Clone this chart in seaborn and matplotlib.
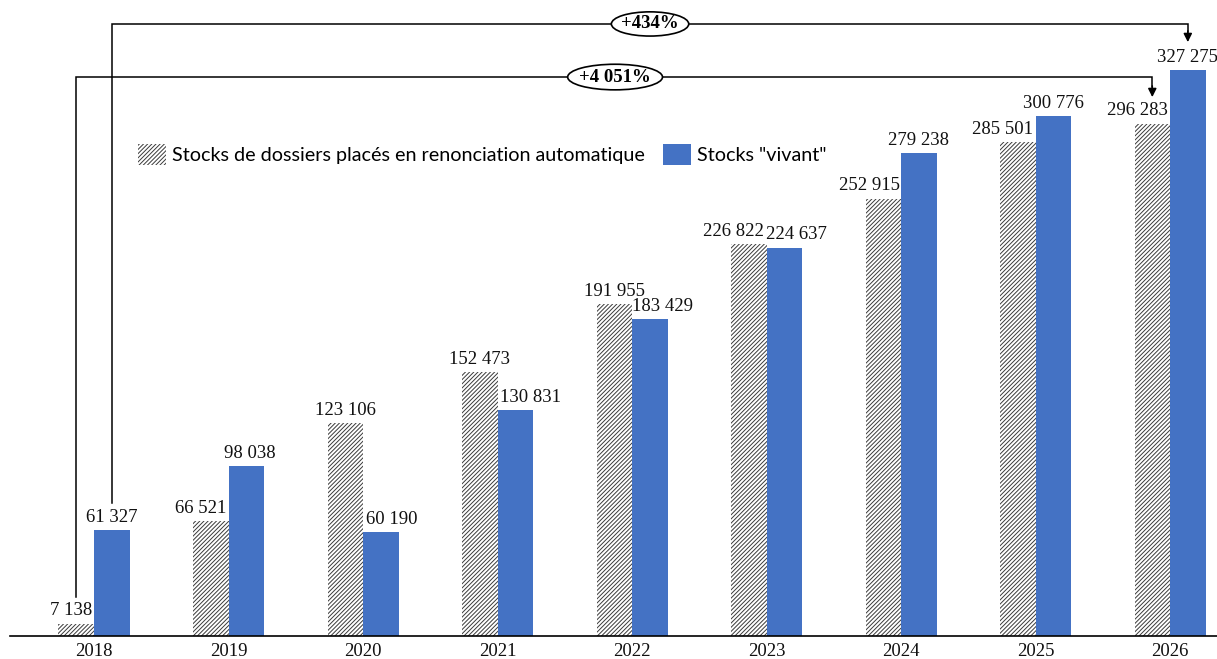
import matplotlib
matplotlib.use("Agg")
import matplotlib.pyplot as plt
import seaborn as sns
import pandas as pd
from matplotlib.patches import Patch, Ellipse

# ---- data ----
years = ["2018", "2019", "2020", "2021", "2022", "2023", "2024", "2025", "2026"]
stock_renonciation = [7138, 66521, 123106, 152473, 191955, 226822, 252915, 285501, 296283]
stock_vivant = [61327, 98038, 60190, 130831, 183429, 224637, 279238, 300776, 327275]
series_names = ["Stocks de dossiers placés en renonciation automatique", 'Stocks "vivant"']
growth_labels = ["+434%", "+4 051%"]

# label nudges (px) to avoid overlapping labels, like the original
off_renon = [-5, -10, 0, 0, 0, -15, -14, -15, -15]
off_vivant = [0, 4, 11, 15, 13, 12, 0, 0, 0]

df = pd.DataFrame({
    "annee": years * 2,
    "valeur": stock_renonciation + stock_vivant,
    "serie": [series_names[0]] * len(years) + [series_names[1]] * len(years),
})

BLUE = "#4472C4"
HATCH = "////////"
plt.rcParams["hatch.linewidth"] = 0.7

fig = plt.figure(figsize=(12.17, 6.59), dpi=100)
ax = fig.add_axes([10 / 1217, 23 / 659, 1207 / 1217, 636 / 659])

sns.barplot(data=df, x="annee", y="valeur", hue="serie", hue_order=series_names,
            palette={series_names[0]: "white", series_names[1]: BLUE},
            width=0.528, gap=0, saturation=1, legend=False, ax=ax)

for bar in ax.containers[0]:
    bar.set_hatch(HATCH)
    bar.set_edgecolor("#3a3a3a")
    bar.set_linewidth(0)
for bar in ax.containers[1]:
    bar.set_edgecolor(BLUE)
    bar.set_linewidth(0)

ax.set_xlim(-0.6245, 8.349)
ax.set_ylim(0, 367750)

fmt = lambda v: f"{v:,}".replace(",", " ")
for cont, offs in zip(ax.containers, [off_renon, off_vivant]):
    for bar, dx in zip(cont, offs):
        ax.annotate(fmt(int(bar.get_height())),
                    (bar.get_x() + bar.get_width() / 2, bar.get_height()),
                    xytext=(dx * 0.72, 3), textcoords="offset points",
                    ha="center", va="bottom", fontsize=13.5,
                    family="Liberation Serif", color="#111111")

# growth brackets
hb = ax.containers[0]
bb = ax.containers[1]
x_h0 = hb[0].get_x() + hb[0].get_width() / 2
x_h8 = hb[-1].get_x() + hb[-1].get_width() / 2
x_b0 = bb[0].get_x() + bb[0].get_width() / 2
x_b8 = bb[-1].get_x() + bb[-1].get_width() / 2

def bracket(x0, x1, y_bottom, y_top, y_tip, xtext, ew, eh, label):
    ax.plot([x0, x0, x1, x1], [y_bottom, y_top, y_top, y_tip + 6000],
            color="black", lw=1.1, clip_on=False, solid_joinstyle="miter")
    ax.annotate("", xy=(x1, y_tip), xytext=(x1, y_tip + 6500),
                arrowprops=dict(arrowstyle="-|>,head_width=0.25,head_length=0.5",
                                color="black", lw=1.1, shrinkA=0, shrinkB=0))
    ax.add_patch(Ellipse((xtext, y_top), ew, eh, fc="white", ec="black", lw=1.2,
                         clip_on=False, zorder=5))
    ax.text(xtext, y_top, label, ha="center", va="center", fontsize=13.5,
            family="Liberation Serif", fontweight="bold", zorder=6)

bracket(x_b0, x_b8, 76900, 353900, 343400, 4.134, 0.575, 14000, growth_labels[0])
bracket(x_h0, x_h8, 22500, 323200, 311600, 3.874, 0.705, 14800, growth_labels[1])

# axes styling
sns.despine(ax=ax, left=True, top=True, right=True)
ax.spines["bottom"].set_color("black")
ax.spines["bottom"].set_linewidth(1.2)
ax.set_yticks([])
ax.set_xlabel("")
ax.set_ylabel("")
ax.tick_params(axis="x", length=0, pad=5)
for t in ax.get_xticklabels():
    t.set_family("Liberation Serif")
    t.set_fontsize(13.5)
    t.set_color("#111111")

handles = [Patch(facecolor="white", edgecolor="#3a3a3a", hatch=HATCH, lw=0, label=series_names[0]),
           Patch(facecolor=BLUE, edgecolor=BLUE, lw=0, label=series_names[1])]
fig.legend(handles=handles, loc="upper left", bbox_to_anchor=(120 / 1217, 1 - 126 / 659),
           ncol=2, frameon=False, prop={"family": "Lato", "size": 14.2},
           handlelength=1.45, handleheight=1.3, handletextpad=0.3, columnspacing=0.9)

fig.savefig("out.png", dpi=100)
